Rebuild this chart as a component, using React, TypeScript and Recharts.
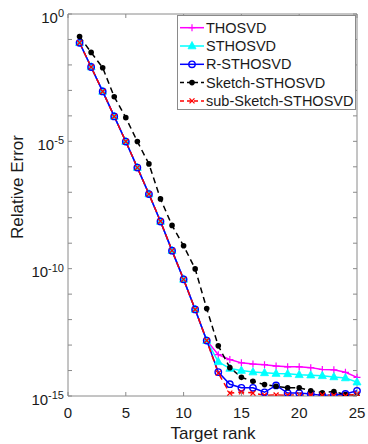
import React from 'react';
import { LineChart, Line, XAxis, YAxis, ReferenceLine, Legend } from 'recharts';

// ---------- data ----------
const ranks = [1, 2, 3, 4, 5, 6, 7, 8, 9, 10, 11, 12, 13, 14, 15, 16, 17, 18, 19, 20, 21, 22, 23, 24, 25];

const thosvd = [
  7.4e-2, 8.3e-3, 9.1e-4, 9.5e-5, 9.8e-6, 9.3e-7, 8.5e-8, 7.1e-9, 5.1e-10, 3.8e-11, 2.5e-12, 1.5e-13,
  4.2e-14, 2.7e-14, 2.0e-14, 1.8e-14, 1.7e-14, 1.5e-14, 1.4e-14, 1.4e-14, 1.3e-14, 1.1e-14, 1.07e-14, 8.5e-15, 5.4e-15,
];
const sthosvd = [
  7.4e-2, 8.3e-3, 9.1e-4, 9.5e-5, 9.8e-6, 9.3e-7, 8.5e-8, 7.1e-9, 5.1e-10, 3.8e-11, 2.5e-12, 1.5e-13,
  2.2e-14, 1.2e-14, 1.0e-14, 8.7e-15, 8.1e-15, 7.6e-15, 7.4e-15, 6.8e-15, 6.6e-15, 6.2e-15, 5.6e-15, 5.1e-15, 3.5e-15,
];
const rSthosvd = [
  7.4e-2, 8.3e-3, 9.1e-4, 9.5e-5, 9.8e-6, 9.3e-7, 8.5e-8, 7.1e-9, 5.1e-10, 3.8e-11, 2.5e-12, 1.5e-13,
  8.7e-15, 2.9e-15, 2.1e-15, 2.1e-15, 1.4e-15, 2.6e-15, 1.3e-15, 1.3e-15, 1.2e-15, 1.05e-15, 1.1e-15, 1.2e-15, 1.6e-15,
];
const sketchSthosvd = [
  1.3e-1, 3.1e-2, 7.8e-3, 5.6e-4, 8.5e-5, 9.8e-6, 1.3e-6, 5.5e-8, 5.0e-9, 7.9e-10, 9.8e-11, 2.7e-12,
  9.3e-14, 1.3e-14, 5.4e-15, 3.8e-15, 2.8e-15, 2.4e-15, 2.1e-15, 2.1e-15, 1.6e-15, 1.35e-15, 1.5e-15, 1.15e-15, 1.0e-15,
];
const subSketchSthosvd = [
  7.4e-2, 8.3e-3, 9.1e-4, 9.5e-5, 9.8e-6, 9.3e-7, 8.5e-8, 7.3e-9, 5.1e-10, 3.8e-11, 2.5e-12, 1.5e-13,
  7.9e-15, 1.3e-15, 1.45e-15, 1.3e-15, 1.07e-15, 1.1e-15, 1.07e-15, 1.1e-15, 1.1e-15, 1.1e-15, 1.05e-15, 1.0e-15, 1.2e-15,
];

const seriesNames = ['THOSVD', 'STHOSVD', 'R-STHOSVD', 'Sketch-STHOSVD', 'sub-Sketch-STHOSVD'];
const xTicks = [0, 5, 10, 15, 20, 25];
const yTicks = [1, 1e-1, 1e-2, 1e-3, 1e-4, 1e-5, 1e-6, 1e-7, 1e-8, 1e-9, 1e-10, 1e-11, 1e-12, 1e-13, 1e-14, 1e-15];
const xLabel = 'Target rank';
const yLabel = 'Relative Error';

const data = ranks.map((r, i) => ({
  rank: r,
  thosvd: thosvd[i],
  sthosvd: sthosvd[i],
  rSthosvd: rSthosvd[i],
  sketch: sketchSthosvd[i],
  subSketch: subSketchSthosvd[i],
}));

// ---------- styling ----------
const W = 368;
const H = 444;
const MARGIN = { top: 14, right: 11, left: 0, bottom: 0 };
const Y_AXIS_W = 68;
const X_AXIS_H = 48;
const PLOT_TOP = MARGIN.top;
const PLOT_RIGHT = W - MARGIN.right;
const AXIS = '#8a8a8a';
const TXT = '#1a1a1a';
const FONT = '"Liberation Sans", Arial, Helvetica, sans-serif';

type MarkerFn = (cx: number, cy: number, k?: string) => React.ReactElement;

const plus = (color: string): MarkerFn => (cx, cy, k) => (
  <path key={k} d={`M${cx - 3.5},${cy}H${cx + 3.5}M${cx},${cy - 3.5}V${cy + 3.5}`} stroke={color} strokeWidth={1.2} fill="none" />
);
const tri = (color: string): MarkerFn => (cx, cy, k) => (
  <path key={k} d={`M${cx},${cy - 4.5}L${cx + 4},${cy + 2.8}L${cx - 4},${cy + 2.8}Z`} fill={color} stroke={color} strokeWidth={0.8} />
);
const circ = (color: string): MarkerFn => (cx, cy, k) => (
  <circle key={k} cx={cx} cy={cy} r={3.2} fill="none" stroke={color} strokeWidth={1.4} />
);
const dot = (color: string): MarkerFn => (cx, cy, k) => (
  <circle key={k} cx={cx} cy={cy} r={2.8} fill={color} stroke="none" />
);
const cross = (color: string): MarkerFn => (cx, cy, k) => (
  <path key={k} d={`M${cx - 2.5},${cy - 2.5}L${cx + 2.5},${cy + 2.5}M${cx - 2.5},${cy + 2.5}L${cx + 2.5},${cy - 2.5}`} stroke={color} strokeWidth={1.3} fill="none" />
);

const series = [
  { key: 'thosvd', name: seriesNames[0], color: '#ff00ff', dash: undefined as string | undefined, marker: plus('#ff00ff') },
  { key: 'sthosvd', name: seriesNames[1], color: '#00ffff', dash: undefined, marker: tri('#00ffff') },
  { key: 'rSthosvd', name: seriesNames[2], color: '#0000ff', dash: undefined, marker: circ('#0000ff') },
  { key: 'sketch', name: seriesNames[3], color: '#000000', dash: '6 4', marker: dot('#000000') },
  { key: 'subSketch', name: seriesNames[4], color: '#ff0000', dash: '6 4', marker: cross('#ff0000') },
];

const XTick = (props: any) => {
  const { x, y, payload } = props;
  return (
    <g>
      <line x1={x} x2={x} y1={y} y2={y - 4} stroke={AXIS} strokeWidth={1} />
      <line x1={x} x2={x} y1={PLOT_TOP} y2={PLOT_TOP + 4} stroke={AXIS} strokeWidth={1} />
      <text x={x} y={y + 21.5} textAnchor="middle" fontSize={15} fill={TXT} fontFamily={FONT}>
        {payload.value}
      </text>
    </g>
  );
};

const YTick = (props: any) => {
  const { x, y, payload } = props;
  const exp = Math.round(Math.log10(payload.value));
  const labelled = exp % 5 === 0;
  return (
    <g>
      <line x1={x} x2={x + 4} y1={y} y2={y} stroke={AXIS} strokeWidth={1} />
      <line x1={PLOT_RIGHT} x2={PLOT_RIGHT - 4} y1={y} y2={y} stroke={AXIS} strokeWidth={1} />
      {labelled && (
        <text x={x - 4} y={y + 8.5} textAnchor="end" fontSize={15} fill={TXT} fontFamily={FONT}>
          <tspan>10</tspan>
          <tspan dy={-5.5} fontSize={11}>{String(exp)}</tspan>
        </text>
      )}
    </g>
  );
};

const renderLegend = () => (
  <svg width={179} height={95} style={{ display: 'block' }}>
    <rect x={0.5} y={0.5} width={178} height={94} fill="#ffffff" stroke={AXIS} strokeWidth={1} />
    {series.map((s, i) => {
      const cy = 12.7 + i * 18.3;
      return (
        <g key={s.key}>
          <line x1={3} x2={27} y1={cy} y2={cy} stroke={s.color} strokeWidth={1.5} strokeDasharray={s.dash ? '4 3' : undefined} />
          {s.marker(15, cy)}
          <text x={29} y={cy + 5} fontSize={14.5} fill={TXT} fontFamily={FONT}>
            {s.name}
          </text>
        </g>
      );
    })}
  </svg>
);

export default function App() {
  return (
    <div style={{ position: 'absolute', left: 0, top: 0, width: W, height: H, background: '#fff' }}>
      <LineChart width={W} height={H} data={data} margin={MARGIN}>
        <XAxis
          dataKey="rank"
          type="number"
          domain={[0, 25]}
          ticks={xTicks}
          interval={0}
          height={X_AXIS_H}
          tickSize={0}
          tickMargin={0}
          tickLine={false}
          axisLine={{ stroke: AXIS, strokeWidth: 1 }}
          tick={<XTick />}
          label={{
            content: () => (
              <text x={213} y={439} textAnchor="middle" fontSize={17} fill={TXT} fontFamily={FONT}>
                {xLabel}
              </text>
            ),
          }}
        />
        <YAxis
          scale="log"
          type="number"
          domain={[1e-15, 1]}
          allowDataOverflow
          ticks={yTicks}
          interval={0}
          width={Y_AXIS_W}
          tickSize={0}
          tickMargin={0}
          tickLine={false}
          axisLine={{ stroke: AXIS, strokeWidth: 1 }}
          tick={<YTick />}
          label={{
            content: () => (
              <text x={23} y={187} transform="rotate(-90, 23, 187)" textAnchor="middle" fontSize={17} fill={TXT} fontFamily={FONT}>
                {yLabel}
              </text>
            ),
          }}
        />
        <ReferenceLine y={1} stroke={AXIS} strokeWidth={1} />
        <ReferenceLine x={25} stroke={AXIS} strokeWidth={1} />
        {series.map((s) => (
          <Line
            key={s.key}
            dataKey={s.key}
            name={s.name}
            type="linear"
            stroke={s.color}
            strokeWidth={1.5}
            strokeDasharray={s.dash}
            isAnimationActive={false}
            activeDot={false}
            dot={(p: any) => (p.cx == null || p.cy == null ? <g key={`${s.key}-${p.index}`} /> : s.marker(p.cx, p.cy, `${s.key}-${p.index}`))}
          />
        ))}
        <Legend
          layout="vertical"
          align="center"
          verticalAlign="middle"
          wrapperStyle={{ left: 177, top: 15, width: 179, height: 95 }}
          content={renderLegend}
        />
      </LineChart>
    </div>
  );
}
